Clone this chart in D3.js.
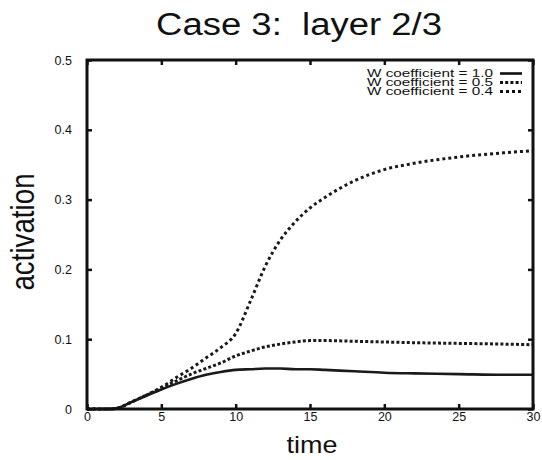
<!DOCTYPE html>
<html>
<head>
<meta charset="utf-8">
<script src="https://cdn.jsdelivr.net/npm/d3@7.9.0/dist/d3.min.js"></script>
<style>
  body { margin: 0; background: #fff; }
  svg { display: block; font-family: "Liberation Sans", Arial, sans-serif; }
  text { white-space: pre; }
</style>
</head>
<body>
<div id="chart"></div>
<script>
// values
const times = [0, 1, 1.5, 2, 3, 4, 5, 6, 7, 8, 9, 10, 11, 12, 13, 14, 15, 16, 18, 20, 22, 25, 28, 30];
const w10 = [0, 0, 0, 0.001, 0.010, 0.019, 0.028, 0.036, 0.043, 0.049, 0.053, 0.056, 0.057, 0.058, 0.058, 0.057, 0.057, 0.056, 0.054, 0.052, 0.051, 0.050, 0.049, 0.049];
const w05 = [0, 0, 0, 0.001, 0.010, 0.020, 0.030, 0.040, 0.050, 0.058, 0.066, 0.076, 0.083, 0.089, 0.093, 0.096, 0.098, 0.098, 0.097, 0.096, 0.095, 0.094, 0.093, 0.092];
const w04 = [0, 0, 0, 0.001, 0.010, 0.020, 0.031, 0.045, 0.058, 0.073, 0.088, 0.108, 0.155, 0.205, 0.242, 0.268, 0.288, 0.303, 0.327, 0.343, 0.352, 0.361, 0.367, 0.370];
const seriesNames = ["W coefficient = 1.0", "W coefficient = 0.5", "W coefficient = 0.4"];
const xTicks = [0, 5, 10, 15, 20, 25, 30];
const yTicks = [0, 0.1, 0.2, 0.3, 0.4, 0.5];

const width = 542, height = 460;
const margin = { top: 60, right: 9, bottom: 51, left: 87 };

const svg = d3.select("#chart").append("svg")
  .attr("width", width).attr("height", height);

const x = d3.scaleLinear().domain([0, 30]).range([margin.left, width - margin.right]);
const y = d3.scaleLinear().domain([0, 0.5]).range([height - margin.bottom, margin.top]);

/* lines */
const styles = [
  { dash: null, w: 2.6 },
  { dash: "3,2.2", w: 3 },
  { dash: "3,3", w: 3 }
];
const series = [w10, w05, w04];

const line = d3.line()
  .x(d => x(d[0]))
  .y(d => y(d[1]))
  .curve(d3.curveMonotoneX);

series.forEach((vals, i) => {
  svg.append("path")
    .datum(times.map((t, j) => [t, vals[j]]))
    .attr("fill", "none")
    .attr("stroke", "#1a1a1a")
    .attr("stroke-width", styles[i].w)
    .attr("stroke-dasharray", styles[i].dash)
    .attr("d", line);
});

/* frame + ticks */
const tickLen = 5;
const bottomAxis = d3.axisBottom(x).tickValues(xTicks).tickSize(-tickLen).tickPadding(3).tickFormat(d3.format("d"));
const topAxis = d3.axisTop(x).tickValues(xTicks).tickSize(-tickLen).tickFormat("");
const leftAxis = d3.axisLeft(y).tickValues(yTicks).tickSize(-tickLen).tickPadding(15)
  .tickFormat(d => d === 0 ? "0" : d3.format(".1f")(d));
const rightAxis = d3.axisRight(y).tickValues(yTicks).tickSize(-tickLen).tickFormat("");

function styleAxis(g) {
  g.select(".domain").remove();
  g.selectAll(".tick line").attr("stroke", "#111").attr("stroke-width", 2.5);
  g.selectAll(".tick text").attr("font-size", 12.5).attr("fill", "#111")
    .attr("font-family", "Liberation Sans, Arial, sans-serif");
}

svg.append("g").attr("transform", `translate(0,${y(0)})`).call(bottomAxis).call(styleAxis);
svg.append("g").attr("transform", `translate(0,${y(0.5)})`).call(topAxis).call(styleAxis);
svg.append("g").attr("transform", `translate(${x(0)},0)`).call(leftAxis).call(styleAxis);
svg.append("g").attr("transform", `translate(${x(30)},0)`).call(rightAxis).call(styleAxis);

svg.append("rect")
  .attr("x", x(0)).attr("y", y(0.5))
  .attr("width", x(30) - x(0)).attr("height", y(0) - y(0.5))
  .attr("fill", "none").attr("stroke", "#111").attr("stroke-width", 3);

/* legend */
const legX = 493;
seriesNames.forEach((name, i) => {
  const ly = 77 + i * 9;
  svg.append("text")
    .attr("transform", `translate(${legX},${ly}) scale(1,0.72)`)
    .attr("text-anchor", "end")
    .attr("font-size", 15.3)
    .attr("fill", "#111")
    .text(name);
  svg.append("line")
    .attr("x1", 500).attr("x2", 522)
    .attr("y1", ly - 3.5).attr("y2", ly - 3.5)
    .attr("stroke", "#111")
    .attr("stroke-width", styles[i].w)
    .attr("stroke-dasharray", styles[i].dash);
});

/* titles */
svg.append("text")
  .attr("transform", "translate(299,35) scale(1,0.84)")
  .attr("text-anchor", "middle")
  .attr("font-size", 36.5)
  .attr("fill", "#111")
  .text("Case 3:  layer 2/3");

svg.append("text")
  .attr("transform", "translate(312,453) scale(1,0.9)")
  .attr("text-anchor", "middle")
  .attr("font-size", 27)
  .attr("fill", "#111")
  .text("time");

svg.append("text")
  .attr("transform", "translate(34,232) rotate(-90) scale(0.84,1)")
  .attr("text-anchor", "middle")
  .attr("font-size", 33)
  .attr("fill", "#111")
  .text("activation");
</script>
</body>
</html>
